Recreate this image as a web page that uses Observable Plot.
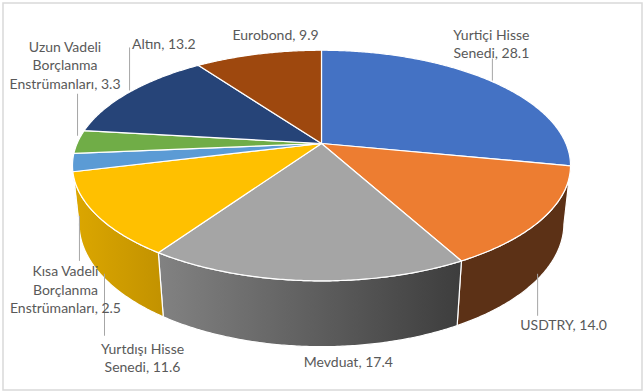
<!DOCTYPE html>
<html>
<head>
<meta charset="utf-8">
<script src="https://cdn.jsdelivr.net/npm/d3@7"></script>
<script src="https://cdn.jsdelivr.net/npm/@observablehq/plot@0.6"></script>
<style>
  html, body { margin: 0; padding: 0; background: #fff; }
</style>
</head>
<body>
<div id="chart"></div>
<script>
// ---- Data ----
const categories = ["Yurtiçi Hisse Senedi", "USDTRY", "Mevduat", "Yurtdışı Hisse Senedi",
  "Kısa Vadeli Borçlanma Enstrümanları", "Uzun Vadeli Borçlanma Enstrümanları", "Altın", "Eurobond"];
const values = [28.1, 14.0, 17.4, 11.6, 2.5, 3.3, 13.2, 9.9];

// ---- Styles ----
const topColors = ["#4472C4", "#ED7D31", "#A5A5A5", "#FFC000", "#5B9BD5", "#70AD47", "#264478", "#9E480E"];
const sideFills = ["#2F528F", "#5C3116", "url(#sideGray)", "url(#sideGold)", "#3D78B0", "#4E7A31", "#1A2F54", "#6E320A"];
const labelWrap = ["Yurtiçi Hisse\nSenedi", "USDTRY", "Mevduat", "Yurtdışı Hisse\nSenedi",
  "Kısa Vadeli\nBorçlanma\nEnstrümanları", "Uzun Vadeli\nBorçlanma\nEnstrümanları", "Altın", "Eurobond"];
// label layout: anchor on top or bottom rim at slice mid-angle, text offset, leader [dx, dy1, dy2]
const labelLayout = [
  {at: "top", dx: 1.5, dy: -37.5, lead: [2.5, 0, -22]},
  {at: "bottom", dx: 26.5, dy: 44.6, lead: [0.5, -6, 36]},
  {at: "bottom", dx: 41.5, dy: 15, lead: null},
  {at: "bottom", dx: 39.6, dy: 80.5, lead: [1.6, -3, 59]},
  {at: "bottom", dx: -13.7, dy: 68, lead: [0.3, -5, 40]},
  {at: "top", dx: -12.8, dy: -77.5, lead: [-0.3, -6, -48]},
  {at: "top", dx: 34, dy: -49, lead: [-0.2, -1.5, -44.5]},
  {at: "top", dx: 17.3, dy: -20, lead: null}
];

// ---- 3D perspective geometry ----
const CX = 321, CY = 143, F = 1139, D = 4.66, T = Math.asin(0.4545), H = 0.269;
const cT = Math.cos(T), sT = Math.sin(T);
function proj(a, r, z) {
  const X = r * Math.sin(a), Y = r * Math.cos(a);
  const depth = D + Y * cT - z * sT;
  return [CX + F * X / depth, CY - F * (Y * sT + z * cT) / depth];
}
const aL = Math.acos(-cT / D), aR = 2 * Math.PI - aL;

const arcs = d3.pie().sort(null).value(d => d)(values);
const faces = [], walls = [], labels = [], leaders = [];
const step = Math.PI / 360;
arcs.forEach((p, i) => {
  const a0 = p.startAngle, a1 = p.endAngle;
  const n = Math.max(2, Math.ceil((a1 - a0) / step));
  const pts = [proj(0, 0, 0)];
  for (let k = 0; k <= n; k++) pts.push(proj(a0 + (a1 - a0) * k / n, 1, 0));
  pts.push(proj(0, 0, 0));
  faces.push({i, pts: pts.map(([x, y]) => ({x, y}))});
  const lo = Math.max(a0, aL), hi = Math.min(a1, aR);
  if (hi > lo) {
    const m = Math.max(2, Math.ceil((hi - lo) / step));
    const w = [];
    for (let k = 0; k <= m; k++) w.push(proj(lo + (hi - lo) * k / m, 1, 0));
    for (let k = m; k >= 0; k--) w.push(proj(lo + (hi - lo) * k / m, 1, -H));
    w.push(w[0]);
    walls.push({i, pts: w.map(([x, y]) => ({x, y}))});
  }
  const mid = (a0 + a1) / 2;
  const L = labelLayout[i];
  const [ax, ay] = proj(mid, 1, L.at === "top" ? 0 : -H);
  labels.push({x: ax + L.dx, y: ay + L.dy, text: labelWrap[i] + ", " + values[i].toFixed(1)});
  if (L.lead) leaders.push({x1: ax + L.lead[0], y1: ay + L.lead[1], x2: ax + L.lead[0], y2: ay + L.lead[2]});
});

const marks = [
  Plot.frame({stroke: "#d9d9d9", strokeWidth: 1.5, inset: 2.5}),
  ...walls.map(w => Plot.line(w.pts, {x: "x", y: "y", fill: sideFills[w.i], stroke: "white", strokeWidth: 1.2, strokeLinejoin: "round"})),
  ...faces.map(f => Plot.line(f.pts, {x: "x", y: "y", fill: topColors[f.i], stroke: "white", strokeWidth: 1.2, strokeLinejoin: "round"})),
  Plot.link(leaders, {x1: "x1", y1: "y1", x2: "x2", y2: "y2", stroke: "#a6a6a6", strokeWidth: 1}),
  Plot.text(labels, {x: "x", y: "y", text: "text", fill: "#595959", fontSize: 14, lineHeight: 1.32, textAnchor: "middle", fontFamily: "Lato"})
];

const svg = Plot.plot({
  width: 644, height: 392,
  margin: 0,
  x: {domain: [0, 644], range: [0, 644], axis: null},
  y: {domain: [0, 392], range: [0, 392], axis: null},
  style: {fontFamily: "Lato", background: "#fff"},
  marks
});

const defs = d3.select(svg).insert("defs", ":first-child");
const g1 = defs.append("linearGradient").attr("id", "sideGray").attr("x1", 0).attr("x2", 1).attr("y1", 0).attr("y2", 0);
g1.append("stop").attr("offset", 0).attr("stop-color", "#828282");
g1.append("stop").attr("offset", 1).attr("stop-color", "#3d3d3d");
const g2 = defs.append("linearGradient").attr("id", "sideGold").attr("x1", 0).attr("x2", 1).attr("y1", 0).attr("y2", 0);
g2.append("stop").attr("offset", 0).attr("stop-color", "#DCA700");
g2.append("stop").attr("offset", 1).attr("stop-color", "#C29200");

document.getElementById("chart").appendChild(svg);
</script>
</body>
</html>
